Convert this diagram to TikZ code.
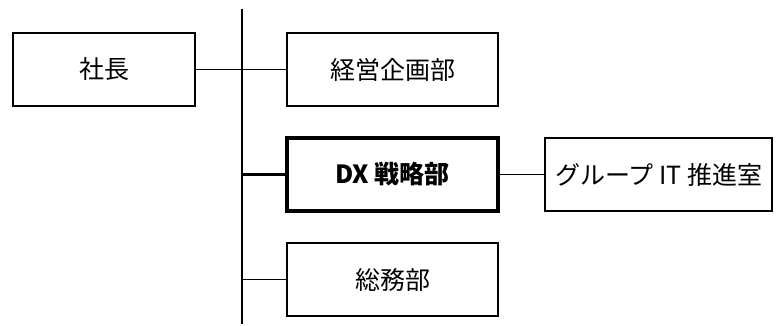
\documentclass[tikz,border=0pt]{standalone}
\usepackage{fontspec}
\setmainfont{Noto Sans CJK JP}
\begin{document}
\begin{tikzpicture}[x=1pt,y=-1pt,
  box/.style={draw, line width=1.6pt, minimum width=211pt, minimum height=73pt, inner sep=0pt, font=\fontsize{25}{29}\selectfont},
  thickbox/.style={box, line width=3.6pt, font=\fontsize{25}{29}\selectfont\bfseries},
  conn/.style={line width=1.2pt},
  thickconn/.style={line width=2.6pt}]
\useasboundingbox (0,0) rectangle (781,326);
\node[box, minimum width=182pt] (pres) at (104,69.5) {社長};
\node[box] (plan) at (392.5,69.5) {経営企画部};
\node[thickbox] (dx) at (392.5,174.5) {DX 戦略部};
\node[box, minimum width=227pt] (grp) at (658.5,174.5) {グループ IT 推進室};
\node[box] (gen) at (392.5,279.5) {総務部};
\coordinate (vtop) at (242,9);
\coordinate (vbot) at (242,324);
\draw[conn] (vtop) -- (vbot);
\draw[conn] (pres.east) -- (plan.west);
\draw[thickconn] (vbot |- dx.west) -- (dx.west);
\draw[conn] (vbot |- gen.west) -- (gen.west);
\draw[conn] (dx.east) -- (grp.west);
\end{tikzpicture}
\end{document}
